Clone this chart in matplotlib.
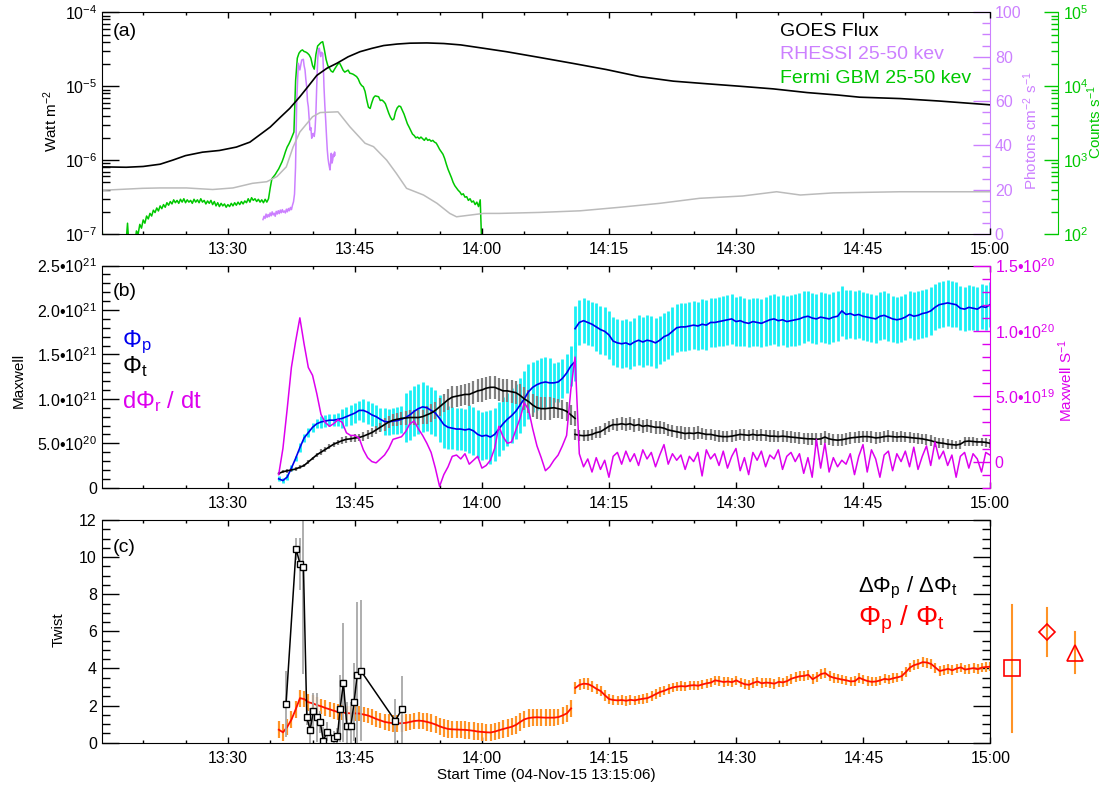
import numpy as np
import matplotlib
matplotlib.use('Agg')
import matplotlib.pyplot as plt
from matplotlib.ticker import (FixedLocator, MultipleLocator, LogLocator,
                               NullFormatter, FuncFormatter)

plt.rcParams['font.family'] = ['Liberation Sans', 'DejaVu Sans']
plt.rcParams['mathtext.fontset'] = 'custom'
plt.rcParams['mathtext.rm'] = 'Liberation Sans'
plt.rcParams['mathtext.it'] = 'Liberation Sans:italic'
plt.rcParams['mathtext.bf'] = 'Liberation Sans:bold'

# time is in minutes after 13:00 UT
tick_min = [30, 45, 60, 75, 90, 105, 120]

# ---- panel (a): GOES, RHESSI, Fermi ----
goes_t = [15.1, 18.0, 20.0, 22.0, 23.5, 25.0, 27.0, 29.0, 31.0, 32.6, 34.0,
          35.0, 36.2, 37.3, 38.5, 39.5, 40.5, 41.7, 42.9, 44.2, 45.6, 47.0,
          48.4, 50.0, 51.5, 53.5, 55.5, 57.5, 60.2, 62.9, 66.8, 70.7, 74.7,
          78.6, 82.6, 86.5, 90.4, 94.4, 98.4, 102.0, 104.6, 109.4, 114.0, 120.0]
goes_flux = [8.1e-7, 8.0e-7, 8.2e-7, 8.8e-7, 1.0e-6, 1.15e-6, 1.28e-6, 1.35e-6,
             1.5e-6, 1.75e-6, 2.3e-6, 2.8e-6, 3.8e-6, 5.0e-6, 7.2e-6, 1.0e-5,
             1.4e-5, 1.75e-5, 2.05e-5, 2.5e-5, 2.93e-5, 3.25e-5, 3.55e-5, 3.72e-5,
             3.82e-5, 3.85e-5, 3.78e-5, 3.62e-5, 3.26e-5, 2.93e-5, 2.45e-5, 2.04e-5,
             1.68e-5, 1.35e-5, 1.17e-5, 1.08e-5, 1.0e-5, 9.2e-6, 8.2e-6, 7.6e-6,
             7.1e-6, 6.8e-6, 6.3e-6, 5.6e-6]

gray_t = [15.1, 19.9, 22.0, 25.1, 28.2, 30.6, 32.9, 34.6, 35.8, 36.9, 37.7,
          38.5, 40.0, 40.9, 43.0, 44.4, 46.2, 47.2, 48.75, 49.9, 51.1, 53.1,
          54.7, 56.2, 57.0, 60.2, 62.1, 66.9, 71.6, 76.3, 81.0, 85.7, 90.8,
          94.8, 97.6, 101.5, 109.4, 120.0]
gray_flux = [3.9e-7, 4.15e-7, 4.2e-7, 4.2e-7, 4.0e-7, 4.2e-7, 4.85e-7, 5.1e-7,
             6.0e-7, 8.1e-7, 1.5e-6, 2.4e-6, 3.86e-6, 4.4e-6, 4.5e-6, 2.83e-6,
             1.69e-6, 1.52e-6, 1.0e-6, 6.6e-7, 4.15e-7, 3.37e-7, 2.6e-7, 1.9e-7,
             1.71e-7, 1.9e-7, 1.9e-7, 1.96e-7, 2.06e-7, 2.3e-7, 2.6e-7, 3.04e-7,
             3.27e-7, 3.73e-7, 3.37e-7, 3.6e-7, 3.73e-7, 3.73e-7]

rhessi_t = [34.15, 34.27, 34.39, 34.51, 34.63, 34.75, 34.87, 34.99, 35.11, 35.23,
            35.35, 35.47, 35.59, 35.71, 35.83, 35.95, 36.07, 36.19, 36.31, 36.43,
            36.55, 36.67, 36.79, 36.91, 37.03, 37.15, 37.27, 37.39, 37.51, 37.63,
            37.75, 37.87, 37.99, 38.13, 38.32, 38.50, 38.72, 38.91, 39.00, 39.11,
            39.20, 39.31, 39.40, 39.50, 39.60, 39.70, 39.80, 39.90, 40.00, 40.09,
            40.20, 40.29, 40.40, 40.49, 40.60, 40.68, 40.80, 40.90, 40.96, 41.05,
            41.20, 41.28, 41.35, 41.45, 41.55, 41.65, 41.74, 41.83, 41.91, 42.00,
            42.06, 42.13, 42.21, 42.30, 42.38, 42.45, 42.53, 42.60, 42.65]
rhessi_rate = [6.5, 8.0, 7.0, 9.0, 7.5, 8.8, 7.8, 9.5, 8.2, 10.0,
               8.6, 9.4, 8.0, 10.2, 9.0, 10.5, 9.2, 10.8, 9.6, 11.0,
               9.8, 10.4, 9.5, 11.2, 10.0, 11.5, 10.5, 12.0, 11.0, 13.0,
               14.5, 18.0, 30.0, 60.0, 77.0, 74.0, 78.5, 78.8, 76.0, 74.0,
               70.0, 66.4, 60.0, 57.4, 52.0, 46.9, 48.0, 43.2, 45.0, 45.4,
               44.0, 46.9, 55.0, 66.4, 78.0, 83.0, 83.8, 81.0, 80.0, 82.0,
               81.5, 75.0, 66.4, 58.0, 51.4, 44.0, 37.9, 34.0, 31.9, 30.0,
               28.9, 32.0, 36.4, 32.0, 33.4, 36.0, 34.9, 37.0, 35.6]

fermi_early_t = [15.1, 15.2, 15.35, 17.9, 18.15, 18.35]
fermi_early = [150, 95, 60, 60, 140, 60]
# from 19.0 min every 0.2 min
fermi_counts = [
    70, 110, 100, 135, 120, 155, 140, 175, 160, 190,
    175, 210, 195, 225, 205, 240, 220, 250, 230, 265,
    245, 275, 255, 290, 265, 285, 260, 295, 270, 300,
    265, 290, 270, 285, 260, 295, 270, 290, 265, 300,
    270, 285, 255, 280, 260, 285, 250, 275, 240, 265,
    235, 260, 240, 255, 230, 250, 235, 260, 240, 265,
    245, 270, 250, 275, 255, 280, 265, 300, 270, 310,
    285, 300, 275, 295, 270, 290, 265, 295, 270, 300,
    420, 560, 600, 640, 700, 760, 850, 950, 1100, 1300,
    1500, 1650, 1850, 2100, 2400, 12000, 24000, 28000, 30000, 31000,
    29500, 29000, 28000, 26500, 24000, 19000, 17000, 27000, 35000, 37000,
    39000, 40000, 31000, 23000, 19000, 17500, 16000, 15500, 17000, 18500,
    20000, 20500, 18500, 16500, 15500, 16000, 16500, 15000, 14800, 14500,
    14000, 13500, 12500, 11000, 10200, 9800, 8500, 6500, 5200, 5000,
    6000, 7000, 7400, 7300, 7200, 6400, 6500, 6200, 5800, 5000,
    4300, 3800, 3500, 3600, 4500, 5100, 5400, 5300, 4700, 4200,
    3600, 3100, 2800, 2500, 2250, 2150, 2000, 2050, 1950, 2050,
    1950, 1850, 2000, 1850, 1900, 1800, 1850, 1750, 1700, 1550,
    1400, 1300, 1200, 1050, 880, 750, 660, 580, 500, 450,
    420, 390, 370, 340, 350, 315, 320, 285, 300, 270,
    280, 250, 270, 235, 290, 60]

# ---- panel (b): fluxes in 1e21 Mx, rate in 1e20 Mx/s, every 0.5 min ----
# before 14:11 (from 36.0 min)
phi_p1 = [0.10, 0.08, 0.12, 0.22, 0.33, 0.45, 0.56, 0.62, 0.68, 0.72,
          0.74, 0.75, 0.76, 0.76, 0.77, 0.78, 0.80, 0.82, 0.84, 0.87,
          0.87, 0.85, 0.82, 0.80, 0.77, 0.745, 0.74, 0.75, 0.755, 0.77,
          0.79, 0.82, 0.86, 0.89, 0.91, 0.90, 0.87, 0.84, 0.78, 0.71,
          0.68, 0.67, 0.66, 0.66, 0.65, 0.66, 0.64, 0.60, 0.58, 0.59,
          0.57, 0.60, 0.66, 0.72, 0.77, 0.81, 0.86, 0.93, 1.00, 1.08,
          1.13, 1.16, 1.18, 1.19, 1.18, 1.18, 1.19, 1.23, 1.29, 1.37, 1.42]
phi_t1 = [0.16, 0.18, 0.19, 0.20, 0.21, 0.23, 0.25, 0.29, 0.33, 0.37,
          0.40, 0.43, 0.46, 0.49, 0.51, 0.53, 0.545, 0.55, 0.56, 0.565,
          0.58, 0.60, 0.62, 0.65, 0.68, 0.71, 0.74, 0.76, 0.77, 0.78,
          0.785, 0.79, 0.79, 0.79, 0.80, 0.82, 0.84, 0.87, 0.91, 0.95,
          0.99, 1.02, 1.03, 1.04, 1.05, 1.05, 1.07, 1.09, 1.10, 1.12,
          1.13, 1.13, 1.11, 1.09, 1.09, 1.08, 1.07, 1.04, 1.00, 0.97,
          0.93, 0.90, 0.89, 0.89, 0.895, 0.90, 0.89, 0.88, 0.86, 0.82, 0.78]
# after 14:11 (from 71.0 min)
phi_p2 = [1.79, 1.86, 1.88, 1.86, 1.84, 1.81, 1.78, 1.76, 1.72, 1.65,
          1.63, 1.62, 1.63, 1.61, 1.64, 1.66, 1.64, 1.66, 1.65, 1.63,
          1.66, 1.70, 1.72, 1.76, 1.80, 1.81, 1.81, 1.82, 1.83, 1.82,
          1.84, 1.83, 1.86, 1.86, 1.87, 1.88, 1.89, 1.90, 1.87, 1.88,
          1.86, 1.85, 1.87, 1.86, 1.85, 1.87, 1.89, 1.90, 1.88, 1.89,
          1.87, 1.88, 1.89, 1.90, 1.92, 1.93, 1.91, 1.90, 1.92, 1.91,
          1.90, 1.92, 1.93, 1.99, 1.95, 1.96, 1.94, 1.95, 1.93, 1.92,
          1.91, 1.90, 1.93, 1.94, 1.92, 1.90, 1.89, 1.90, 1.92, 1.95,
          1.93, 1.94, 1.96, 1.97, 1.99, 2.03, 2.06, 2.07, 2.08, 2.07,
          2.06, 2.02, 2.01, 2.03, 2.02, 2.01, 2.04, 2.03, 2.06]
phi_t2 = [0.60, 0.59, 0.585, 0.59, 0.60, 0.62, 0.63, 0.66, 0.69, 0.71,
          0.71, 0.72, 0.71, 0.72, 0.70, 0.71, 0.69, 0.70, 0.69, 0.68,
          0.68, 0.67, 0.65, 0.64, 0.63, 0.62, 0.61, 0.615, 0.61, 0.62,
          0.61, 0.60, 0.60, 0.59, 0.58, 0.575, 0.575, 0.58, 0.59, 0.60,
          0.595, 0.59, 0.60, 0.59, 0.595, 0.59, 0.58, 0.58, 0.575, 0.58,
          0.575, 0.57, 0.565, 0.56, 0.555, 0.55, 0.55, 0.545, 0.55, 0.57,
          0.55, 0.54, 0.535, 0.54, 0.55, 0.56, 0.565, 0.57, 0.575, 0.575,
          0.57, 0.56, 0.565, 0.575, 0.58, 0.575, 0.57, 0.575, 0.57, 0.565,
          0.56, 0.555, 0.55, 0.54, 0.53, 0.515, 0.505, 0.50, 0.49, 0.485,
          0.48, 0.49, 0.52, 0.525, 0.52, 0.515, 0.515, 0.51, 0.50]
# error half-widths, one value per 2.5 min block
err_p1_blk = [0.03, 0.05, 0.07, 0.11, 0.13, 0.15, 0.28, 0.26, 0.24, 0.27,
              0.30, 0.31, 0.28, 0.22, 0.22]
err_t1_blk = [0.02, 0.02, 0.03, 0.04, 0.05, 0.07, 0.08, 0.10, 0.12, 0.13,
              0.13, 0.13, 0.13, 0.11, 0.08]
err_p2_blk = [0.25, 0.27, 0.27, 0.28, 0.27, 0.27, 0.28, 0.28, 0.27, 0.28,
              0.29, 0.28, 0.28, 0.27, 0.27, 0.26, 0.27, 0.26, 0.25, 0.25]
err_t2_blk = [0.06, 0.065, 0.075, 0.075, 0.07, 0.07, 0.065, 0.065, 0.065, 0.065,
              0.065, 0.07, 0.07, 0.065, 0.065, 0.06, 0.06, 0.055, 0.05, 0.05]
# dPhi_r/dt from 36.0 min
rate = [-0.10, 0.10, 0.40, 0.72, 0.92, 1.10, 0.90, 0.72, 0.66, 0.52,
        0.36, 0.30, 0.27, 0.29, 0.32, 0.30, 0.22, 0.20, 0.20, 0.18,
        0.09, 0.03, 0.00, -0.01, 0.02, 0.05, 0.10, 0.17, 0.18, 0.19,
        0.23, 0.29, 0.31, 0.25, 0.20, 0.14, 0.07, -0.05, -0.19, -0.10,
        -0.04, 0.04, 0.05, 0.02, 0.06, -0.02, 0.01, 0.04, -0.05, -0.03,
        0.01, 0.10, 0.27, 0.19, 0.14, 0.15, 0.24, 0.33, 0.45, 0.40,
        0.25, 0.12, 0.03, -0.07, -0.04, 0.01, 0.05, 0.12, 0.20, 0.55, 0.80,
        0.06, -0.04, 0.02, -0.08, 0.03, -0.06, 0.01, -0.12, 0.04, 0.07,
        -0.02, 0.08, 0.00, 0.06, -0.03, 0.09, 0.02, 0.07, -0.04, 0.05,
        0.13, -0.02, 0.06, 0.01, 0.05, -0.06, 0.04, 0.00, 0.07, -0.11,
        0.09, 0.02, 0.06, -0.03, 0.08, -0.05, 0.04, 0.10, -0.07, 0.03,
        -0.10, 0.07, 0.01, 0.08, -0.04, 0.05, 0.02, 0.09, -0.06, 0.04,
        0.07, 0.00, 0.06, -0.09, 0.03, -0.12, 0.17, -0.05, 0.14, -0.08,
        0.03, -0.04, 0.01, -0.02, 0.06, -0.10, 0.04, 0.13, -0.08, 0.09,
        0.02, -0.12, 0.05, 0.08, -0.07, 0.06, 0.00, 0.08, -0.04, 0.11,
        -0.06, 0.04, 0.12, -0.03, 0.15, 0.02, 0.08, -0.03, 0.05, -0.12,
        0.04, 0.07, -0.05, 0.06, 0.02, -0.08, 0.07, 0.05]

# ---- panel (c): twist ----
ratio1 = [0.70, 0.56, 0.85, 1.25, 1.80, 2.40, 2.35, 2.18, 2.12, 2.03,
          1.96, 1.87, 1.80, 1.72, 1.65, 1.62, 1.60, 1.58, 1.58, 1.57,
          1.52, 1.47, 1.38, 1.28, 1.20, 1.12, 1.08, 1.05, 1.04, 1.05,
          1.07, 1.12, 1.17, 1.19, 1.17, 1.12, 1.06, 0.98, 0.88, 0.80,
          0.74, 0.72, 0.71, 0.70, 0.69, 0.67, 0.64, 0.60, 0.58, 0.56,
          0.55, 0.60, 0.67, 0.74, 0.80, 0.86, 0.96, 1.12, 1.26, 1.33,
          1.36, 1.37, 1.36, 1.35, 1.35, 1.35, 1.38, 1.47, 1.58, 1.85]
ratio2 = [2.95, 3.12, 3.18, 3.16, 3.05, 2.90, 2.78, 2.55, 2.35, 2.30,
          2.28, 2.30, 2.26, 2.31, 2.28, 2.33, 2.37, 2.40, 2.50, 2.62,
          2.73, 2.80, 2.90, 2.98, 3.02, 3.05, 3.03, 3.08, 3.10, 3.07,
          3.14, 3.20, 3.24, 3.36, 3.32, 3.27, 3.30, 3.26, 3.36, 3.24,
          3.15, 3.12, 3.22, 3.30, 3.20, 3.24, 3.22, 3.18, 3.28, 3.25,
          3.32, 3.45, 3.52, 3.58, 3.60, 3.66, 3.42, 3.55, 3.70, 3.75,
          3.58, 3.50, 3.45, 3.40, 3.36, 3.30, 3.32, 3.50, 3.40, 3.32,
          3.28, 3.30, 3.36, 3.44, 3.40, 3.47, 3.52, 3.58, 3.80, 4.05,
          4.18, 4.25, 4.34, 4.32, 4.24, 4.05, 3.86, 3.92, 3.98, 3.90,
          4.00, 4.06, 3.94, 3.98, 4.02, 3.96, 4.05, 4.08, 4.10]
err_r1_blk = [0.45, 0.45, 0.42, 0.40, 0.42, 0.45, 0.45, 0.47, 0.47, 0.47,
              0.47, 0.47, 0.45, 0.45]
err_r2_blk = [0.30, 0.28, 0.26, 0.26, 0.25, 0.25, 0.25, 0.25, 0.26, 0.26,
              0.27, 0.27, 0.26, 0.26, 0.25, 0.26, 0.27, 0.27, 0.26, 0.26]

dratio_t = [36.86, 38.04, 38.52, 38.91, 39.31, 39.70, 40.09, 40.53, 40.88, 41.27,
            41.67, 42.53, 42.92, 43.24, 43.63, 44.03, 44.51, 44.89, 45.25, 45.69,
            49.74, 50.53]
dratio = [2.09, 10.44, 9.61, 9.48, 1.37, 0.68, 1.73, 1.36, 1.13, 0.10,
          0.59, 0.27, 0.34, 1.84, 3.23, 0.90, 0.90, 2.17, 3.66, 3.87,
          1.18, 1.80]
dratio_err = [1.8, 0.6, 1.4, 5.8, 0.4, 1.2, 0.95, 1.3, 0.6, 0.75,
              0.5, 0.35, 0.45, 1.8, 3.2, 1.3, 1.3, 2.1, 3.9, 3.8,
              1.2, 1.8]

# summary points right of panel (c)
side_x = [122.5, 126.7, 130.0]
side_val = [4.0, 5.95, 4.85]
side_err = [3.4, 1.3, 1.1]
side_mark = ['s', 'D', '^']
side_size = [12, 8, 11]

PINK = '#CC80FF'
GREEN = '#00C800'
CYAN = '#19F0F5'
MAG = '#DD00EE'
ORANGE = '#FF9326'

W, H = 1105, 791
fig = plt.figure(figsize=(W / 100, H / 100), dpi=100)


def box(left, top, right, bottom):
    return [left / W, 1 - bottom / H, (right - left) / W, (bottom - top) / H]


def hhmm(v, pos):
    m = int(round(v))
    return '%d:%02d' % (13 + m // 60, m % 60)


def sci(scale):
    def fmt(v, pos):
        if abs(v) < 1e-9:
            return '0'
        if v < 0:
            return ''
        val = v * 10.0 ** scale
        e = int(np.floor(np.log10(val) + 1e-9))
        return '%.1f\u2022' % (val / 10.0 ** e) + '10$^{%d}$' % e
    return fmt


def time_axis(ax):
    ax.set_xlim(15.1, 120)
    ax.xaxis.set_major_locator(FixedLocator(tick_min))
    ax.xaxis.set_major_formatter(FuncFormatter(hhmm))
    ax.xaxis.set_minor_locator(MultipleLocator(5))
    ax.tick_params(axis='x', which='both', direction='in', top=True,
                   labelsize=11.5, pad=6, width=1)
    ax.tick_params(axis='x', which='major', length=4.5)
    ax.tick_params(axis='x', which='minor', length=2.5)


def y_style(ax, color='black', major=12.5, minor=6):
    ax.tick_params(axis='y', which='both', direction='in', labelsize=11.5,
                   pad=3.5, width=1, colors=color)
    ax.tick_params(axis='y', which='major', length=major)
    ax.tick_params(axis='y', which='minor', length=minor)


def only_right_spine(ax, color):
    for s in ['top', 'bottom', 'left']:
        ax.spines[s].set_visible(False)
    ax.spines['right'].set_color(color)


# ---------------- panel (a) ----------------
ax_a = fig.add_axes(box(101.7, 12.3, 990, 234))
ax_g = ax_a.twinx()
ax_p = ax_a.twinx()
ax_a.set_zorder(5)
ax_a.patch.set_visible(False)

ax_a.set_yscale('log')
ax_a.set_ylim(1e-7, 1e-4)
ax_a.plot(gray_t, gray_flux, color='#BBBBBB', lw=1.1)
ax_a.plot(goes_t, goes_flux, color='black', lw=1.2)
time_axis(ax_a)
y_style(ax_a)
ax_a.yaxis.set_minor_locator(LogLocator(base=10, subs=np.arange(2, 10)))
ax_a.yaxis.set_minor_formatter(NullFormatter())
ax_a.spines['right'].set_visible(False)

fermi_t = np.concatenate([fermi_early_t, 19.0 + 0.2 * np.arange(len(fermi_counts))])
fermi_all = np.concatenate([fermi_early, fermi_counts])
ax_g.set_yscale('log')
ax_g.set_ylim(1e2, 1e5)
ax_g.plot(fermi_t, fermi_all, color=GREEN, lw=1.1)
ax_g.spines['right'].set_position(('axes', (1057.7 - 101.7) / 888.3))
only_right_spine(ax_g, GREEN)
y_style(ax_g, GREEN, major=10, minor=5)
ax_g.yaxis.set_minor_locator(LogLocator(base=10, subs=np.arange(2, 10)))
ax_g.yaxis.set_minor_formatter(NullFormatter())

ax_p.set_ylim(0, 100)
ax_p.plot(rhessi_t, rhessi_rate, color=PINK, lw=1.1)
ax_p.yaxis.set_major_locator(MultipleLocator(20))
ax_p.yaxis.set_minor_locator(MultipleLocator(5))
only_right_spine(ax_p, PINK)
y_style(ax_p, PINK)

fig.text(780 / W, 1 - 36 / H, 'GOES Flux', color='black', fontsize=14, va='baseline')
fig.text(780 / W, 1 - 59.3 / H, 'RHESSI 25-50 kev', color=PINK, fontsize=14, va='baseline')
fig.text(780 / W, 1 - 82.7 / H, 'Fermi GBM 25-50 kev', color=GREEN, fontsize=14, va='baseline')
fig.text(113 / W, 1 - 31 / H, '(a)', fontsize=14, va='center')
fig.text(51 / W, 1 - 121 / H, 'Watt m$^{-2}$', rotation=90, fontsize=11,
         ha='center', va='center')
fig.text(1031 / W, 1 - 131 / H, 'Photons cm$^{-2}$ s$^{-1}$', rotation=90,
         fontsize=11, ha='center', va='center', color=PINK)
fig.text(1095 / W, 1 - 122 / H, 'Counts s$^{-1}$', rotation=90, fontsize=11,
         ha='center', va='center', color=GREEN)

# ---------------- panel (b) ----------------
ax_b = fig.add_axes(box(101.7, 265.6, 990, 487.7))
t1 = 36.0 + 0.5 * np.arange(len(phi_p1))
t2 = 71.0 + 0.5 * np.arange(len(phi_p2))
ep1 = np.repeat(err_p1_blk, 5)[:len(t1)]
et1 = np.repeat(err_t1_blk, 5)[:len(t1)]
ep2 = np.repeat(err_p2_blk, 5)[:len(t2)]
et2 = np.repeat(err_t2_blk, 5)[:len(t2)]
p1, q1, p2, q2 = map(np.array, (phi_p1, phi_t1, phi_p2, phi_t2))

ax_b.vlines(t1, p1 - ep1, p1 + ep1, color=CYAN, lw=2.0)
ax_b.vlines(t2, p2 - ep2, p2 + ep2, color=CYAN, lw=2.0)
ax_b.vlines(t1, q1 - et1, q1 + et1, color='#808080', lw=1.6)
ax_b.vlines(t2, q2 - et2, q2 + et2, color='#808080', lw=1.6)
ax_b.plot(t1, p1, color='#0000EE', lw=1.2)
ax_b.plot(t2, p2, color='#0000EE', lw=1.2)
ax_b.plot(t1, q1, color='black', lw=1.2)
ax_b.plot(t2, q2, color='black', lw=1.2)
ax_b.set_ylim(0, 2.5)
ax_b.yaxis.set_major_locator(MultipleLocator(0.5))
ax_b.yaxis.set_minor_locator(MultipleLocator(0.1))
ax_b.yaxis.set_major_formatter(FuncFormatter(sci(21)))
time_axis(ax_b)
y_style(ax_b)
ax_b.spines['right'].set_visible(False)

ax_m = ax_b.twinx()
tm = 36.0 + 0.5 * np.arange(len(rate))
ax_m.plot(tm, rate, color=MAG, lw=1.1)
ax_m.set_ylim(-0.2, 1.5)
ax_m.yaxis.set_major_locator(FixedLocator([0, 0.5, 1.0, 1.5]))
ax_m.yaxis.set_minor_locator(MultipleLocator(0.1))
ax_m.yaxis.set_major_formatter(FuncFormatter(sci(20)))
only_right_spine(ax_m, MAG)
y_style(ax_m, MAG)

fig.text(113 / W, 1 - 291 / H, '(b)', fontsize=14, va='center')
fig.text(122 / W, 1 - 346.7 / H, r'$\Phi_{\mathrm{p}}$', color='#0000EE',
         fontsize=17, va='baseline')
fig.text(122 / W, 1 - 373 / H, r'$\Phi_{\mathrm{t}}$', color='black',
         fontsize=17, va='baseline')
fig.text(122 / W, 1 - 408 / H, r'd$\Phi_{\mathrm{r}}$ / dt', color=MAG,
         fontsize=17, va='baseline')
fig.text(19 / W, 1 - 380 / H, 'Maxwell', rotation=90, fontsize=11,
         ha='center', va='center')
fig.text(1066 / W, 1 - 380 / H, 'Maxwell S$^{-1}$', rotation=90, fontsize=11,
         ha='center', va='center', color=MAG)

# ---------------- panel (c) ----------------
ax_c = fig.add_axes(box(101.7, 520, 990.5, 742.7))
tr1 = 36.0 + 0.5 * np.arange(len(ratio1))
tr2 = 71.0 + 0.5 * np.arange(len(ratio2))
er1 = np.repeat(err_r1_blk, 5)[:len(tr1)]
er2 = np.repeat(err_r2_blk, 5)[:len(tr2)]
r1, r2 = np.array(ratio1), np.array(ratio2)
ax_c.vlines(tr1, r1 - er1, r1 + er1, color=ORANGE, lw=1.6)
ax_c.vlines(tr2, r2 - er2, r2 + er2, color=ORANGE, lw=1.6)
ax_c.plot(tr1, r1, color='#FF1000', lw=1.3)
ax_c.plot(tr2, r2, color='#FF1000', lw=1.3)

dr, de = np.array(dratio), np.array(dratio_err)
ax_c.vlines(dratio_t, dr - de, dr + de, color='#A8A8A8', lw=1.3)
ax_c.plot(dratio_t, dr, color='black', lw=1.1, marker='s', ms=5,
          mfc='white', mec='black', mew=1)

for x, v, e, mk, ms in zip(side_x, side_val, side_err, side_mark, side_size):
    ax_c.plot([x, x], [v - e, v + e], color=ORANGE, lw=1.5, clip_on=False)
    ax_c.plot([x], [v], marker=mk, ms=ms, mfc='none', mec='red', mew=1.2,
              linestyle='none', clip_on=False)

ax_c.set_ylim(0, 12)
ax_c.yaxis.set_major_locator(MultipleLocator(2))
ax_c.yaxis.set_minor_locator(MultipleLocator(0.5))
time_axis(ax_c)
y_style(ax_c)
ax_c.tick_params(axis='y', which='both', right=True)

fig.text(113 / W, 1 - 547 / H, '(c)', fontsize=14, va='center')
fig.text(858 / W, 1 - 592 / H, r'$\Delta\Phi_{\mathrm{p}}$ / $\Delta\Phi_{\mathrm{t}}$',
         color='black', fontsize=16, va='baseline')
fig.text(858 / W, 1 - 625 / H, r'$\Phi_{\mathrm{p}}$ / $\Phi_{\mathrm{t}}$',
         color='red', fontsize=20, va='baseline')
fig.text(59 / W, 1 - 630 / H, 'Twist', rotation=90, fontsize=11,
         ha='center', va='center')
fig.text(546 / W, 1 - 775 / H, 'Start Time (04-Nov-15 13:15:06)', fontsize=11,
         ha='center', va='center')

fig.savefig('out.png', dpi=100)
